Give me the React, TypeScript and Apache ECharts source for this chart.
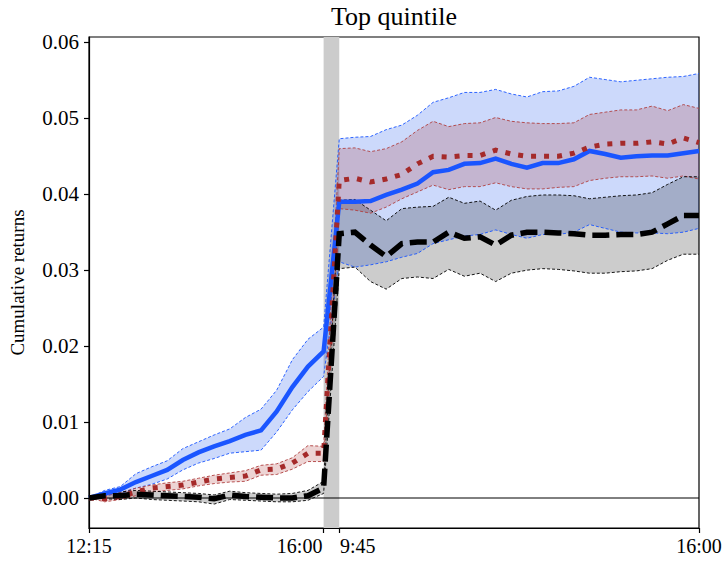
import React, { useEffect, useRef } from "react";
import * as echarts from "echarts";

// x positions are evenly spaced sample indices: day 1 = 0..15, day 2 = 16..39
const xTickPos = [0, 15, 16, 39];
const xTickLabels = ["12:15", "16:00", "9:45", "16:00"];
const yTicks = [0, 0.01, 0.02, 0.03, 0.04, 0.05, 0.06];

const blueMean = [
  0, 0.0006, 0.0011, 0.0021, 0.0029, 0.0037, 0.005, 0.006, 0.0068, 0.0075, 0.0083, 0.0089, 0.0114, 0.0146, 0.0173, 0.0193,
  0.039, 0.039, 0.0391, 0.0399, 0.0406, 0.0414, 0.0429, 0.0432, 0.044, 0.0441, 0.0447, 0.044, 0.0435, 0.0441, 0.0441, 0.0446,
  0.0457, 0.0453, 0.0448, 0.045, 0.0451, 0.0451, 0.0454, 0.0457,
];
const blueUpper = [
  0, 0.001, 0.0015, 0.0032, 0.0041, 0.0049, 0.0065, 0.0074, 0.0083, 0.0091, 0.0106, 0.0117, 0.0142, 0.0182, 0.0209, 0.0225,
  0.0473, 0.0475, 0.0476, 0.0485, 0.0491, 0.0504, 0.0521, 0.0527, 0.0534, 0.0534, 0.0538, 0.0532, 0.0528, 0.0535, 0.0536, 0.0542,
  0.0554, 0.0551, 0.0548, 0.055, 0.0552, 0.0554, 0.0555, 0.0559,
];
const blueLower = [
  0, 0.0003, 0.0006, 0.0013, 0.0018, 0.0025, 0.0037, 0.0046, 0.0052, 0.0059, 0.0061, 0.0063, 0.0087, 0.0116, 0.014, 0.016,
  0.0311, 0.0304, 0.0307, 0.0311, 0.0317, 0.0322, 0.0335, 0.034, 0.0345, 0.0347, 0.0353, 0.0347, 0.0342, 0.0347, 0.0347, 0.035,
  0.036, 0.0355, 0.035, 0.0349, 0.0349, 0.0348, 0.035, 0.0355,
];

const redMean = [
  0, -0.0001, 0.0002, 0.0008, 0.0013, 0.0015, 0.0017, 0.0021, 0.0025, 0.0027, 0.0029, 0.0037, 0.0038, 0.0046, 0.0059, 0.0059,
  0.0418, 0.0421, 0.0416, 0.042, 0.0426, 0.044, 0.045, 0.0449, 0.0451, 0.0451, 0.0458, 0.0453, 0.045, 0.045, 0.045, 0.0454,
  0.0462, 0.0466, 0.0467, 0.0467, 0.0469, 0.0466, 0.0474, 0.0468,
];
const redUpper = [
  0, 0.0003, 0.0007, 0.0013, 0.0017, 0.002, 0.0022, 0.0026, 0.003, 0.0033, 0.0036, 0.0043, 0.0045, 0.0053, 0.0069, 0.0068,
  0.046, 0.0461, 0.0456, 0.046, 0.0469, 0.0484, 0.0496, 0.0489, 0.0493, 0.0494, 0.0501, 0.0496, 0.0494, 0.0493, 0.0493, 0.0494,
  0.0505, 0.0508, 0.0511, 0.0511, 0.0516, 0.051, 0.0518, 0.0513,
];
const redLower = [
  0, -0.0005, -0.0002, 0.0003, 0.0008, 0.001, 0.0012, 0.0016, 0.0019, 0.0021, 0.0022, 0.003, 0.0031, 0.0038, 0.0048, 0.0048,
  0.0381, 0.0379, 0.0375, 0.0383, 0.0394, 0.0403, 0.0412, 0.0406, 0.041, 0.041, 0.0415, 0.041, 0.0407, 0.0407, 0.0409, 0.041,
  0.0418, 0.0421, 0.0423, 0.0423, 0.0424, 0.0421, 0.0424, 0.042,
];

const blackMean = [
  0, 0.0003, 0.0003, 0.0005, 0.0004, 0.0003, 0.0002, 0.0001, -0.0001, 0.0004, 0.0002, 0.0001, 0.0, 0.0, 0.0003, 0.0013,
  0.0348, 0.035, 0.0333, 0.0318, 0.0335, 0.0337, 0.0337, 0.035, 0.0342, 0.0344, 0.0333, 0.0346, 0.035, 0.035, 0.0349, 0.0348,
  0.0346, 0.0346, 0.0347, 0.0347, 0.035, 0.0361, 0.0372, 0.0372,
];
const blackUpper = [
  0, 0.0007, 0.0008, 0.001, 0.0009, 0.0008, 0.0007, 0.0006, 0.0004, 0.0009, 0.0007, 0.0006, 0.0005, 0.0006, 0.001, 0.0022,
  0.0392, 0.0393, 0.0379, 0.0365, 0.0381, 0.0383, 0.0384, 0.0396, 0.0388, 0.0391, 0.0379, 0.0392, 0.0397, 0.0399, 0.0399, 0.0398,
  0.0394, 0.0396, 0.0398, 0.0399, 0.0402, 0.0413, 0.0423, 0.0423,
];
const blackLower = [
  0, -0.0001, -0.0002, 0.0, -0.0002, -0.0003, -0.0004, -0.0005, -0.0008, -0.0002, -0.0003, -0.0004, -0.0005, -0.0005, -0.0003, 0.0006,
  0.0302, 0.0304, 0.0285, 0.0275, 0.0289, 0.0291, 0.0289, 0.0301, 0.0292, 0.0296, 0.0285, 0.0296, 0.03, 0.0302, 0.0301, 0.0299,
  0.0296, 0.0296, 0.0298, 0.0299, 0.0302, 0.0313, 0.0321, 0.0321,
];

const FONT = "Liberation Serif";
const BLUE = "#1a55ff";
const RED = "#a52a2a";
const BLACK = "#000000";

const toPts = (arr: number[]) => arr.map((v, i) => [i, v]);

function edgeLine(name: string, data: number[], color: string) {
  return {
    name,
    type: "line",
    data: toPts(data),
    symbol: "none",
    lineStyle: { color, width: 1, type: [3, 2], opacity: 0.9 },
    z: 3,
    silent: true,
  };
}

function band(key: string, lower: number[], upper: number[], edge: string, fill: string) {
  return [
    {
      name: key + "Fill",
      type: "custom",
      data: [[0, 0]],
      z: 2,
      silent: true,
      renderItem: (_params: any, api: any) => {
        const top = upper.map((v, i) => api.coord([i, v]));
        const bottom = lower.map((v, i) => api.coord([i, v])).reverse();
        return {
          type: "polygon",
          shape: { points: top.concat(bottom) },
          style: { fill, stroke: "none" },
        };
      },
    },
    edgeLine(key + "Upper", upper, edge),
    edgeLine(key + "Lower", lower, edge),
  ];
}

function meanLine(key: string, data: number[], color: string, width: number, type: any) {
  return {
    name: key,
    type: "line",
    data: toPts(data),
    symbol: "none",
    lineStyle: { color, width, type, cap: "butt", join: "miter" },
    z: 4,
    silent: true,
  };
}

export default function App() {
  const ref = useRef<HTMLDivElement>(null);
  useEffect(() => {
    if (!ref.current) return;
    const chart = echarts.init(ref.current, null, { renderer: "svg" });
    const labelFont = { fontFamily: FONT, fontSize: 20, color: "#000" };
    chart.setOption({
      animation: false,
      title: {
        text: "Top quintile",
        left: 394,
        top: 3,
        padding: 0,
        textAlign: "center",
        textStyle: { fontFamily: FONT, fontSize: 26, fontWeight: "normal", color: "#000" },
      },
      grid: {
        left: 89,
        right: 27,
        top: 37,
        bottom: 34,
        outerBoundsMode: "none",
        containLabel: false,
        show: true,
        borderColor: "#000",
        borderWidth: 1.2,
        backgroundColor: "transparent",
      },
      xAxis: {
        type: "value",
        min: 0,
        max: 39,
        axisLine: { show: true, onZero: false, lineStyle: { color: "#000", width: 1.2 } },
        axisTick: { show: true, length: 5, customValues: xTickPos, lineStyle: { color: "#000", width: 1.2 } },
        axisLabel: {
          ...labelFont,
          margin: 8,
          customValues: xTickPos,
          formatter: (v: number) => {
            const k = xTickPos.indexOf(Math.round(v));
            if (k < 0) return "";
            if (k === 1) return "{r|" + xTickLabels[k] + "}";
            if (k === 2) return "{l|" + xTickLabels[k] + "}";
            return xTickLabels[k];
          },
          rich: {
            r: { fontFamily: FONT, fontSize: 20, color: "#000", padding: [0, 48, 0, 0] },
            l: { fontFamily: FONT, fontSize: 20, color: "#000", padding: [0, 0, 0, 37] },
          },
        },
        splitLine: { show: false },
      },
      yAxis: {
        type: "value",
        min: -0.00395,
        max: 0.0607,
        name: "Cumulative returns",
        nameLocation: "middle",
        nameGap: 62,
        nameTextStyle: { fontFamily: FONT, fontSize: 19, color: "#000" },
        axisLine: { show: true, onZero: false, lineStyle: { color: "#000", width: 1.2 } },
        axisTick: { show: true, length: 5, customValues: yTicks, lineStyle: { color: "#000", width: 1.2 } },
        axisLabel: {
          ...labelFont,
          fontSize: 21,
          margin: 10,
          customValues: yTicks,
          formatter: (v: number) => v.toFixed(2),
        },
        splitLine: { show: false },
      },
      series: [
        {
          name: "zero",
          type: "line",
          data: [
            [0, 0],
            [39, 0],
          ],
          symbol: "none",
          lineStyle: { color: "#000", width: 1 },
          z: 3,
          silent: true,
          markArea: {
            silent: true,
            itemStyle: { color: "#cccccc" },
            data: [[{ xAxis: xTickPos[1] }, { xAxis: xTickPos[2] }]],
          },
        },
        ...band("blue", blueLower, blueUpper, BLUE, "rgba(0,65,235,0.2)"),
        ...band("red", redLower, redUpper, "#b04040", "rgba(165,42,42,0.2)"),
        ...band("black", blackLower, blackUpper, "#000", "rgba(0,0,0,0.2)"),
        meanLine("blueMean", blueMean, BLUE, 4.5, "solid"),
        meanLine("redMean", redMean, RED, 5, [5, 8]),
        meanLine("blackMean", blackMean, BLACK, 5.5, [17, 7]),
      ],
    });
    return () => chart.dispose();
  }, []);
  return (
    <div
      ref={ref}
      style={{ position: "absolute", left: 0, top: 0, width: 726, height: 562, background: "#fff" }}
    />
  );
}
